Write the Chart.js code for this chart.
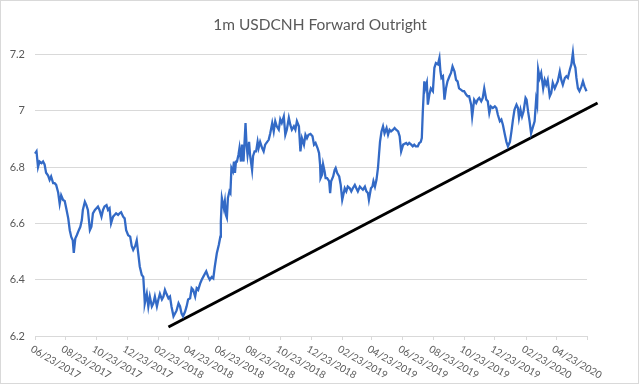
<!DOCTYPE html>
<html>
<head>
    <title>1m USDCNH Forward Outright</title>
    <style>
        body {margin: 0; background: #fff; overflow: hidden;}
        #chart {display: block;}
    </style>
    <script src="https://cdn.jsdelivr.net/npm/chart.js"></script>
</head>
<body>
    <canvas id="chart" width="640" height="385"></canvas>

<script>
    // days counted from 06/23/2017, rates
    var startDate = '06/23/2017';
    var axisEnd = '06/23/2020';
    var tickLabels = ['06/23/2017', '08/23/2017', '10/23/2017', '12/23/2017', '02/23/2018', '04/23/2018',
        '06/23/2018', '08/23/2018', '10/23/2018', '12/23/2018', '02/23/2019', '04/23/2019',
        '06/23/2019', '08/23/2019', '10/23/2019', '12/23/2019', '02/23/2020', '04/23/2020'];
    var yTicks = [6.2, 7.2, 0.2]; // min, max, step

    var days = [0,3,6,9,13,16,19,22,26,29,32,36,39,42,46,49,52,56,59,62,66,69,72,75,77,80,83,87,90,93,
        95,99,102,105,109,112,115,119,122,125,128,132,135,138,142,145,148,151,155,158,161,165,168,171,175,178,181,185,
        189,192,195,199,202,205,208,212,215,217,218,222,225,228,232,235,238,242,245,248,252,255,258,261,265,268,
        271,275,278,281,285,288,291,294,298,301,304,308,311,314,318,321,324,328,331,334,340,344,347,351,354,357,361,
        365,368,369,371,375,377,379,381,383,386,388,390,393,395,397,399,401,404,406,409,411,414,418,420,422,425,
        427,431,433,436,439,442,444,447,451,454,457,461,464,467,471,474,477,480,484,487,490,494,497,500,504,507,
        510,514,517,520,524,527,530,534,537,540,543,
        547,551,554,557,561,564,566,567,570,572,575,577,580,584,586,588,592,595,597,600,604,607,610,612,615,618,
        621,625,628,631,635,638,641,645,648,651,655,658,661,663,667,670,672,675,678,681,683,685,688,691,694,698,
        701,704,707,711,714,717,721,724,727,731,
        737,740,743,747,750,753,756,760,763,766,768,770,773,775,778,780,783,786,790,793,796,800,803,805,807,810,
        813,816,819,823,826,829,833,836,839,842,846,849,852,856,859,862,866,868,870,872,876,879,882,886,889,892,
        896,899,902,905,909,
        913,916,919,923,926,929,933,936,939,943,946,949,952,956,959,961,964,967,970,974,976,979,982,985,989,992,
        995,997,999,1002,1005,1009,1012,1015,1018,1022,1025,1028,1032,1035,1038,1042,1045,1048,1052,1055,1058,
        1062,1065,1068,1070,1073,1075,1078,1081,1085,1088,1091,1095];

    var rates = [6.848,6.856,6.80,6.82,6.814,6.82,6.81,6.78,6.77,6.755,6.767,6.743,6.743,6.737,6.71,6.67,6.70,6.683,6.68,6.654,
        6.618,6.576,6.552,6.54,6.495,6.546,6.558,6.576,6.588,6.612,6.648,6.677,6.665,6.648,6.576,6.588,6.636,6.648,6.654,6.66,
        6.648,6.624,6.648,6.66,6.665,6.648,6.654,6.60,6.624,6.63,6.636,6.63,6.636,6.64,6.624,6.618,6.576,6.558,
        6.553,6.52,6.506,6.52,6.54,6.494,6.447,6.417,6.41,6.35,6.316,6.35,6.305,6.34,6.305,6.316,6.34,6.305,6.33,6.35,
        6.33,6.34,6.364,6.35,6.334,6.34,6.305,6.27,6.28,6.29,6.316,6.305,6.28,6.27,6.287,6.305,6.33,6.334,6.37,6.364,
        6.34,6.37,6.364,6.387,6.40,6.41,6.43,6.41,6.40,6.41,6.405,6.447,6.494,
        6.524,6.553,6.607,6.69,6.654,6.678,6.63,6.62,6.69,6.714,6.708,6.797,6.785,6.82,6.78,6.82,6.82,6.844,6.868,6.82,
        6.88,6.82,6.957,6.88,6.844,6.89,6.844,6.79,6.84,6.856,6.856,6.89,6.868,6.89,6.868,6.856,6.88,6.89,6.897,6.92,
        6.957,6.927,6.963,6.945,6.933,6.97,6.957,6.98,6.915,6.933,6.975,6.95,6.933,6.945,6.933,6.963,6.945,6.856,6.903,6.88,
        6.915,6.903,6.915,
        6.918,6.91,6.88,6.886,6.868,6.85,6.81,6.761,6.773,6.81,6.785,6.761,6.761,6.75,6.708,6.75,6.767,6.79,6.797,6.779,
        6.767,6.737,6.684,6.70,6.725,6.714,6.731,6.725,6.714,6.725,6.737,6.725,6.714,6.731,6.725,6.72,6.731,6.714,6.708,6.684,
        6.725,6.731,6.75,6.731,6.755,6.797,6.844,6.89,6.927,6.945,6.92,6.939,6.915,6.933,6.927,6.933,6.939,6.933,6.927,6.91,
        6.856,6.88,
        6.886,6.88,6.886,6.88,6.874,6.88,6.874,6.874,6.886,6.89,6.903,6.998,7.105,7.08,7.10,7.022,7.058,7.08,7.07,7.153,
        7.17,7.165,7.188,7.14,7.117,7.123,7.04,7.08,7.105,7.123,7.135,7.158,7.14,7.11,7.105,7.08,7.075,7.07,7.07,7.058,
        7.052,7.052,7.022,6.98,7.01,7.04,7.028,7.04,7.046,7.034,7.046,7.08,7.04,7.034,6.992,7.016,7.01,
        7.016,7.01,6.986,6.963,6.969,6.951,6.915,6.89,6.874,6.89,6.927,6.969,7.004,7.022,7.01,6.975,7.004,6.98,6.998,7.046,
        7.04,6.998,6.963,6.92,6.945,6.963,7.04,7.022,7.147,7.117,7.135,7.08,7.11,7.093,7.11,7.052,7.064,7.10,7.08,7.093,
        7.105,7.14,7.11,7.093,7.117,7.123,7.117,7.147,7.165,7.206,7.17,7.153,7.117,7.08,7.07,7.087,7.105,7.087,7.07];

    // hand drawn support line
    var trendDays = [265, 1117];
    var trendRates = [6.232, 7.028];

    function dayOf(s) {
        var p = s.split('/').map(Number), q = startDate.split('/').map(Number);
        return (Date.UTC(p[2], p[0] - 1, p[1]) - Date.UTC(q[2], q[0] - 1, q[1])) / 864e5;
    }

    var tickDays = tickLabels.concat([axisEnd]).map(dayOf);

    // rotated date labels (Chart.js only rotates the other way)
    var xLabels = {
        id: 'xLabels',
        afterDraw: function(chart) {
            var ctx = chart.ctx, x = chart.scales.x;
            ctx.save();
            ctx.font = '10px Lato, sans-serif';
            ctx.fillStyle = '#595959';
            ctx.textAlign = 'left';
            ctx.textBaseline = 'top';
            tickLabels.forEach(function(lbl) {
                ctx.save();
                ctx.translate(x.getPixelForValue(dayOf(lbl)) - 1, x.top + 8);
                ctx.rotate(30 * Math.PI / 180);
                ctx.fillText(lbl, 0, 0);
                ctx.restore();
            });
            ctx.restore();
        }
    };

    var frame = {
        id: 'frame',
        beforeDraw: function(chart) {
            var ctx = chart.ctx;
            ctx.save();
            ctx.fillStyle = '#fff';
            ctx.fillRect(0, 0, chart.width, chart.height);
            ctx.strokeStyle = '#d9d9d9';
            ctx.lineWidth = 1;
            ctx.strokeRect(0.5, 0.5, chart.width - 2, chart.height - 2);
            ctx.restore();
        }
    };

    Chart.defaults.font.family = 'Lato, sans-serif';
    Chart.defaults.color = '#595959';

    var ctx = document.getElementById('chart').getContext('2d');
    var chart = new Chart(ctx, {
        type: 'line',
        data: {
            datasets: [{
                label: '1m USDCNH',
                data: days.map(function(d, i) { return {x: d, y: rates[i]}; }),
                borderColor: '#336ac6',
                borderWidth: 2.3,
                pointRadius: 0,
                tension: 0,
                clip: false
            }, {
                label: 'trend',
                data: trendDays.map(function(d, i) { return {x: d, y: trendRates[i]}; }),
                borderColor: '#000',
                borderWidth: 3,
                pointRadius: 0,
                clip: false
            }]
        },
        options: {
            responsive: false,
            animation: false,
            layout: {padding: {left: 0, right: 0, top: 0, bottom: 45}},
            plugins: {
                legend: {display: false},
                tooltip: {enabled: false},
                title: {
                    display: true,
                    text: '1m USDCNH Forward Outright',
                    color: '#595959',
                    font: {size: 15.5, weight: 'normal'},
                    padding: {top: 16, bottom: 20}
                }
            },
            scales: {
                x: {
                    type: 'linear',
                    min: 0,
                    max: dayOf(axisEnd),
                    afterBuildTicks: function(s) {
                        s.ticks = tickDays.map(function(v) { return {value: v}; });
                    },
                    grid: {drawOnChartArea: false, color: '#d9d9d9', tickLength: 4},
                    border: {color: '#d9d9d9'},
                    ticks: {display: false}
                },
                y: {
                    min: yTicks[0],
                    max: yTicks[1],
                    afterFit: function(s) { s.width = 35; },
                    ticks: {
                        stepSize: yTicks[2],
                        padding: 10,
                        font: {size: 11},
                        callback: function(v) { return +v.toFixed(1); }
                    },
                    grid: {color: '#d9d9d9', drawTicks: false},
                    border: {display: false}
                },
                // empty spacer so the plot stops short of the right edge
                spacer: {
                    position: 'right',
                    grid: {display: false},
                    ticks: {display: false},
                    border: {display: false},
                    afterFit: function(s) { s.width = 53; }
                }
            }
        },
        plugins: [frame, xLabels]
    });
</script>
</body>
</html>
